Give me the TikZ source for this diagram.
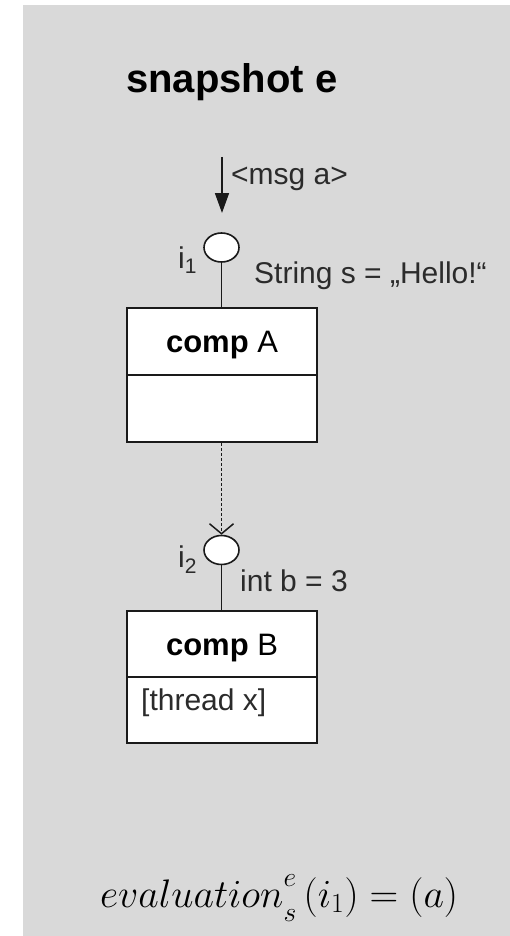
\documentclass[tikz,border=0pt]{standalone}
\usepackage{fontspec}
\setmainfont{Liberation Sans}
\usetikzlibrary{arrows.meta,shapes.geometric}
\definecolor{panel}{HTML}{D9D9D9}
\definecolor{ink}{HTML}{1A1A1A}
\definecolor{txt}{HTML}{2B2B2B}
\tikzset{
  compbox/.style={draw=ink, line width=1.8pt, fill=white},
  port/.style={ellipse, draw=ink, line width=1.6pt, fill=white, minimum width=35pt, minimum height=29pt, inner sep=0pt},
  wire/.style={draw=ink, line width=1.7pt},
  lbl/.style={text=txt, inner sep=0pt, font=\fontsize{30}{34}\selectfont},
}
\begin{document}
\begin{tikzpicture}[x=1pt,y=-1pt]
\useasboundingbox (0,0) rectangle (510,936);
\fill[panel] (23,5) rectangle (510,936);

% title
\node[anchor=base west, inner sep=0pt, font=\fontsize{40}{44}\selectfont\bfseries] (title) at (126,93) {snapshot e};

% incoming message
\coordinate (msgtop) at (222,157);
\node[port] (p1) at (221.5,247.5) {};
\draw[wire, -{Triangle[length=20pt,width=14pt]}] (msgtop) -- (222,213);
\node[lbl, anchor=base west] (msg) at (231,185) {<msg a>};
\node[lbl, anchor=base west] (i1) at (178,268) {i\textsubscript{1}};
\node[lbl, anchor=base west] (sval) at (254,283) {String s = „Hello!“};

% component A
\node[compbox, minimum width=190pt, minimum height=134pt, inner sep=0pt] (A) at (222,375) {};
\draw[ink, line width=1.8pt] (127,375) -- (317,375);
\node[anchor=base, inner sep=0pt, font=\fontsize{31}{34}\selectfont] (Aname) at (222,352) {\textbf{comp} A};
\draw[wire] (p1.south) -- (A.north -| p1.south);

% component B
\node[port] (p2) at (221.5,550) {};
\node[compbox, minimum width=190pt, minimum height=132pt, inner sep=0pt] (B) at (222,677) {};
\draw[ink, line width=1.8pt] (127,677) -- (317,677);
\node[anchor=base, inner sep=0pt, font=\fontsize{31}{34}\selectfont] (Bname) at (222,655) {\textbf{comp} B};
\node[lbl, anchor=base west] (thr) at (141,710) {[thread x]};
\draw[wire] (p2.south) -- (B.north -| p2.south);
\node[lbl, anchor=base west] (i2) at (178,567) {i\textsubscript{2}};
\node[lbl, anchor=base west] (bval) at (240,591) {int b = 3};

% call from A to B
\draw[ink, line width=1.8pt, dash pattern=on 3pt off 2pt, -{Straight Barb[length=10pt,width=24pt,line width=1.5pt]}]
  (A.south -| p2.north) -- (p2.north);

% evaluation
\node[anchor=base west, inner sep=0pt] (eval) at (100,907)
  {\scalebox{1.6}{\fontsize{24}{28}\selectfont$evaluation_{\lower3pt\hbox{$\scriptstyle s$}}^{\raise4pt\hbox{$\scriptstyle e$}}\,(i_1) = (a)$}};
\end{tikzpicture}
\end{document}
